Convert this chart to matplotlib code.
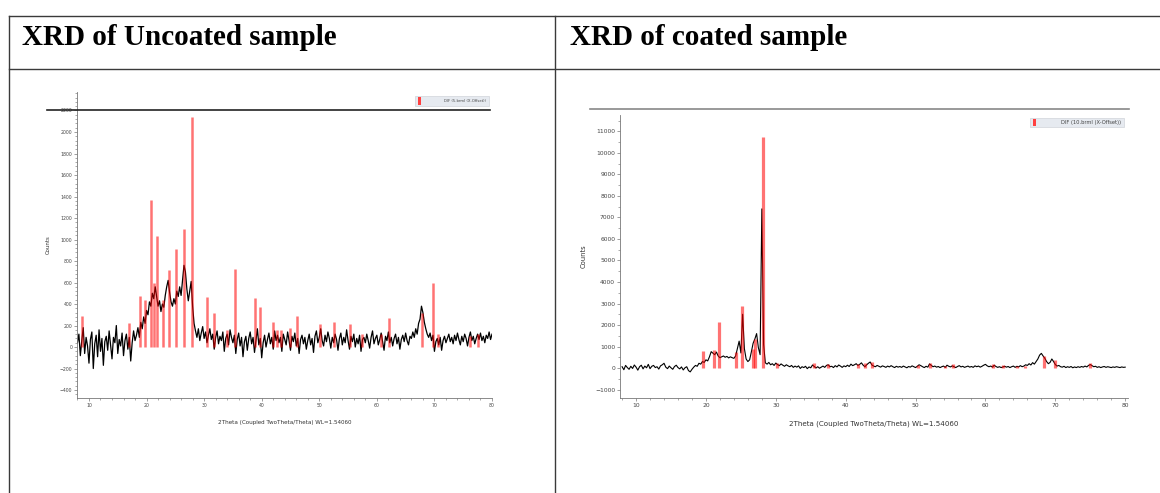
import numpy as np
import matplotlib.pyplot as plt
from matplotlib.lines import Line2D
from matplotlib.patches import Rectangle
from matplotlib.ticker import MultipleLocator

W, H = 1160, 493


def fx(x):
    return x / W


def fy(y):
    return 1 - y / H


# scan angle grid, 0.25 deg steps from 8 to 80
theta = np.arange(8.0, 80.001, 0.25)

uncoated_counts = [
    40, 120, -80, 60, 180, -60, 90, 10, -150, 70, 140, -200, 30, 110, -90, 160, -40, 80, -170, 50,
    100, -30, 150, 20, -110, 90, 40, 200, -60, 70, 10, 130, -80, 60, 120, -20, 90, -130, 40, 150,
    60, 110, 180, 90, 230, 170, 280, 220, 340, 300, 420, 380, 500, 450, 560, 470, 380, 430, 330, 400,
    370, 480, 560, 620, 510, 420, 380, 450, 400, 520, 470, 560, 480, 620, 760, 700, 540, 430, 520, 610,
    380, 220, 150, 90, 170, 60, 130, 190, 80, 140, 40, 110, 170, 70, 120, -20, 90, 150, 30, 100,
    60, 140, -40, 80, 120, 20, 160, 90, 40, 110, -60, 70, 130, 10, 90, -90, 50, 100, -30, 80,
    140, 30, 90, -50, 60, 170, 20, 80, -100, 40, 110, 0, 70, 130, 30, 90, -20, 150, 60, 110,
    40, 90, -40, 120, 70, 20, 140, 60, -30, 100, 50, 130, 10, 80, -60, 70, 110, 30, 90, -20,
    60, 120, 20, 80, -50, 100, 150, 40, 90, 170, 60, 10, 110, 50, 140, 80, -10, 90, 40, 120,
    70, -30, 80, 130, 20, 90, 40, 160, 60, -20, 100, 50, 120, 0, 80, 30, 110, -40, 70, 90,
    40, 120, 60, -10, 90, 150, 30, 80, 110, 20, 70, 130, 50, -30, 100, 60, 140, 40, 90, 10,
    80, 120, 30, 90, -20, 70, 110, 50, 130, 60, 20, 100, 80, 140, 90, 170, 120, 220, 260, 380,
    320, 230, 170, 120, 90, 130, 60, 110, -40, 50, 80, 20, 90, -30, 60, 100, 40, 80, 120, 50,
    90, 30, 110, 60, 130, 70, 20, 100, 50, 120, 80, 10, 90, 140, 60, 100, 30, 80, 120, 70,
    130, 60, 100, 40, 110, 80, 140, 70, 120,
]

# measured counts, coated sample
coated_counts = [
    60, -80, 120, 20, -60, 80, -20, 140, 40, -100, 60, 130, -40, 90, 10, 170, -30, 80, 120, 20,
    60, -50, 100, 150, 220, 40, -30, 90, 10, -60, 70, 130, 20, -40, 50, -90, 10, 60, -120, -180,
    -60, 40, 120, 80, 220, 180, 300, 260, 380, 330, 520, 760, 690, 620, 740, 560, 480, 520, 560, 500,
    540, 470, 520, 480, 450, 560, 900, 1250, 700, 2500, 900, 420, 300, 380, 750, 1150, 1350, 1600, 950, 620,
    7400, 1100, 240, 180, 260, 150, 200, 120, 230, 160, 110, 190, 130, 80, 150, 100, 60, 120, 30, 90,
    40, 100, -20, 60, 20, 80, -30, 50, 10, 140, 70, 0, 60, -10, 40, 90, 30, 120, 150, 60,
    80, 20, 110, 50, 140, 90, 30, 100, 60, 130, 70, 180, 110, 150, 200, 120, 170, 240, 130, 60,
    150, 220, 280, 140, 90, 60, 120, 80, 40, 100, 70, 30, 90, 50, 110, 60, 20, 80, 40, 70,
    30, 90, 50, 10, 70, 40, 100, 60, 20, 80, 150, 110, 60, 20, 80, 40, 190, 120, 60, 90,
    40, 70, 20, 60, 90, 30, 130, 80, 50, 100, 60, 20, 70, 110, 50, 80, 30, 60, 90, 40,
    70, 30, 100, 60, 90, 40, 80, 130, 170, 100, 60, 90, 40, 130, 70, 30, 60, 20, 50, 80,
    40, 70, 20, 60, 90, 30, 80, 50, 110, 60, 90, 150, 120, 200, 140, 250, 180, 300, 420, 600,
    680, 560, 450, 300, 200, 260, 420, 300, 160, 90, 120, 60, 40, 80, 20, 60, 30, 70, 10, 50,
    20, 60, 30, 70, 40, 90, 50, 120, 160, 110, 60, 80, 30, 60, 20, 50, 70, 30, 60, 40,
    20, 50, 30, 60, 40, 20, 50, 30, 40,
]

# reference stick pattern (DIF)
uncoated_pos = [8.8, 16.9, 18.8, 19.7, 20.8, 21.3, 21.9, 22.9, 23.9, 25.1, 26.5, 27.95,
                30.5, 31.8, 34.0, 35.4, 38.8, 39.7, 41.9, 42.7, 43.4, 45.0, 46.1, 50.2,
                52.6, 55.4, 57.5, 60.7, 62.1, 67.8, 69.7, 70.7, 76.1, 77.6]
uncoated_int = [288, 220, 474, 440, 1370, 600, 1035, 437, 720, 910, 1100, 2135,
                470, 315, 160, 725, 460, 375, 230, 160, 160, 174, 288, 214,
                235, 214, 121, 124, 267, 313, 592, 124, 105, 124]

coated_pos = [19.6, 21.1, 21.8, 24.3, 25.2, 26.7, 27.0, 28.1, 30.1, 35.5, 37.5, 41.8,
              42.8, 43.7, 50.4, 52.1, 54.2, 55.4, 61.1, 62.5, 64.5, 65.7, 68.4, 70.0, 75.0]
coated_int = [806, 837, 2155, 760, 2900, 868, 1333, 10760, 248, 217, 186, 186,
              220, 295, 140, 248, 93, 186, 186, 140, 93, 93, 558, 372, 248]

xlabel = "2Theta (Coupled TwoTheta/Theta) WL=1.54060"

fig = plt.figure(figsize=(W / 100, H / 100), dpi=100)

# table frame
line_col = "#3a3a3a"
fig.add_artist(Line2D([fx(9), fx(1160)], [fy(16), fy(16)], color=line_col, lw=1.0))
fig.add_artist(Line2D([fx(9), fx(1160)], [fy(69), fy(69)], color=line_col, lw=1.0))
fig.add_artist(Line2D([fx(9), fx(9)], [fy(16), fy(493)], color=line_col, lw=1.0))
fig.add_artist(Line2D([fx(555), fx(555)], [fy(16), fy(493)], color=line_col, lw=1.0))

fig.text(fx(22), fy(45), "XRD of Uncoated sample", fontsize=21, fontweight="bold",
         family="Liberation Serif", va="baseline")
fig.text(fx(570), fy(45), "XRD of coated sample", fontsize=21, fontweight="bold",
         family="Liberation Serif", va="baseline")


def panel(box, xlim, ylim, counts, pos, heights, major, minor, fs, stick_w, line_w,
          legend_txt, leg_box):
    x0, x1, ytop, ybot = box
    ax = fig.add_axes([fx(x0), fy(ybot), (x1 - x0) / W, (ybot - ytop) / H])
    ax.plot(theta, counts, color="black", lw=line_w)
    ax.vlines(pos, 0, heights, colors="red", alpha=0.55, lw=stick_w)
    ax.set_xlim(*xlim)
    ax.set_ylim(*ylim)
    for s in ["top", "right"]:
        ax.spines[s].set_visible(False)
    for s in ["left", "bottom"]:
        ax.spines[s].set_color("#777777")
        ax.spines[s].set_linewidth(0.6)
    ax.xaxis.set_major_locator(MultipleLocator(10))
    ax.xaxis.set_minor_locator(MultipleLocator(2))
    ax.yaxis.set_major_locator(MultipleLocator(major))
    ax.yaxis.set_minor_locator(MultipleLocator(minor))
    ax.tick_params(which="major", length=2, width=0.5, color="#777777",
                   labelsize=fs, labelcolor="#444444", pad=1.5)
    ax.tick_params(which="minor", length=1.2, width=0.5, color="#888888")
    ax.set_xlabel(xlabel, fontsize=fs + 0.8, color="#333333", labelpad=9)
    ax.set_ylabel("Counts", fontsize=fs + 0.6, color="#333333", labelpad=6)
    # legend box
    lx0, lx1, ly0, ly1 = leg_box
    fig.add_artist(Rectangle((fx(lx0), fy(ly1)), (lx1 - lx0) / W, (ly1 - ly0) / H,
                             transform=fig.transFigure, facecolor="#e6eaf0",
                             edgecolor="#d0d4da", lw=0.5))
    fig.add_artist(Rectangle((fx(lx0 + 3), fy(ly1 - 1)), 2.5 / W, (ly1 - ly0 - 2) / H,
                             transform=fig.transFigure, facecolor="#ff4040", lw=0))
    fig.text(fx(lx1 - 3), fy((ly0 + ly1) / 2), legend_txt, fontsize=fs - 0.6,
             color="#444444", ha="right", va="center")
    return ax


ax1 = panel((77, 492, 92, 398), (7.92, 80.0), (-474, 2372), uncoated_counts,
            uncoated_pos, uncoated_int, 200, 40, 3.3, 1.8, 0.9,
            "DIF (5.brml (X-Offset))", (415, 489, 96, 106))
ax2 = panel((620, 1128, 115, 398), (7.7, 80.4), (-1395, 11767), coated_counts,
            coated_pos, coated_int, 1000, 500, 4.3, 2.3, 0.8,
            "DIF (10.brml (X-Offset))", (1030, 1124, 118, 127))

# header rule above each plot
fig.add_artist(Line2D([fx(47), fx(490)], [fy(110), fy(110)], color="#222222", lw=1.2))
fig.add_artist(Line2D([fx(590), fx(1129)], [fy(109), fy(109)], color="#888888", lw=1.2))

fig.savefig("out.png", dpi=100)
